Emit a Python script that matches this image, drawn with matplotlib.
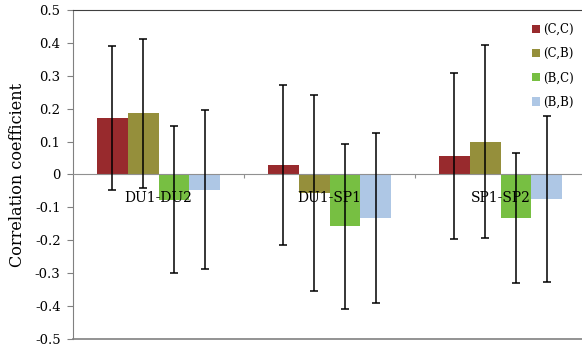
import matplotlib.pyplot as plt
import numpy as np

# data
groups = ["DU1-DU2", "DU1-SP1", "SP1-SP2"]
series = ["(C,C)", "(C,B)", "(B,C)", "(B,B)"]
colors = ["#982A2D", "#958F3B", "#77BF42", "#AEC7E5"]

cc = [0.173, 0.030, 0.057]
cb = [0.186, -0.055, 0.100]
bc = [-0.076, -0.157, -0.132]
bb = [-0.046, -0.133, -0.074]

cc_err = [0.219, 0.243, 0.253]
cb_err = [0.226, 0.298, 0.293]
bc_err = [0.224, 0.251, 0.198]
bb_err = [0.242, 0.258, 0.252]

yticks = [0.5, 0.4, 0.3, 0.2, 0.1, 0, -0.1, -0.2, -0.3, -0.4, -0.5]
ytick_labels = ["0.5", "0.4", "0.3", "0.2", "0.1", "0", "-0.1", "-0.2", "-0.3", "-0.4", "-0.5"]

plt.rcParams['font.family'] = ['DejaVu Serif']

fig = plt.figure(figsize=(5.82, 3.49), dpi=100)
ax = fig.add_axes([73 / 582, 1 - 339 / 349, 513 / 582, 329 / 349])

x = np.arange(len(groups))
w = 0.181
vals = [cc, cb, bc, bb]
errs = [cc_err, cb_err, bc_err, bb_err]
for i in range(4):
    pos = x + (i - 1.5) * w
    ax.bar(pos, vals[i], w, color=colors[i], label=series[i], zorder=2)
    ax.errorbar(pos, vals[i], yerr=errs[i], fmt='none', ecolor='black',
                elinewidth=1.1, capsize=3, capthick=1.1, zorder=3)

ax.set_xlim(-0.5, 2.5)
ax.set_ylim(-0.5, 0.5)
ax.set_yticks(yticks)
ax.set_yticklabels(ytick_labels, fontsize=9.5)
ax.tick_params(axis='y', length=4, color='#808080', pad=5)
ax.set_ylabel("Correlation coefficient", fontsize=11.5, labelpad=6)

# x axis at zero
ax.spines['bottom'].set_position(('data', 0))
ax.spines['bottom'].set_color('#909090')
ax.set_xticks([0.5, 1.5])
ax.set_xticklabels([])
ax.tick_params(axis='x', length=3, color='#909090', direction='out')
ax.spines['right'].set_visible(False)
ax.spines['left'].set_color('#808080')
ax.spines['top'].set_color('#404040')
ax.axhline(-0.5, color='#808080', lw=1.2, clip_on=False)

for i, g in enumerate(groups):
    ax.text(i, -0.07, g, ha='center', va='center', fontsize=10, zorder=4)

fig.legend(loc='upper right', bbox_to_anchor=(580 / 582, 1 - 17 / 349), frameon=False,
           fontsize=8.5, handlelength=0.7, handleheight=0.7, handletextpad=0.3,
           labelspacing=0.95, borderpad=0)

fig.savefig("out.png", dpi=100)
